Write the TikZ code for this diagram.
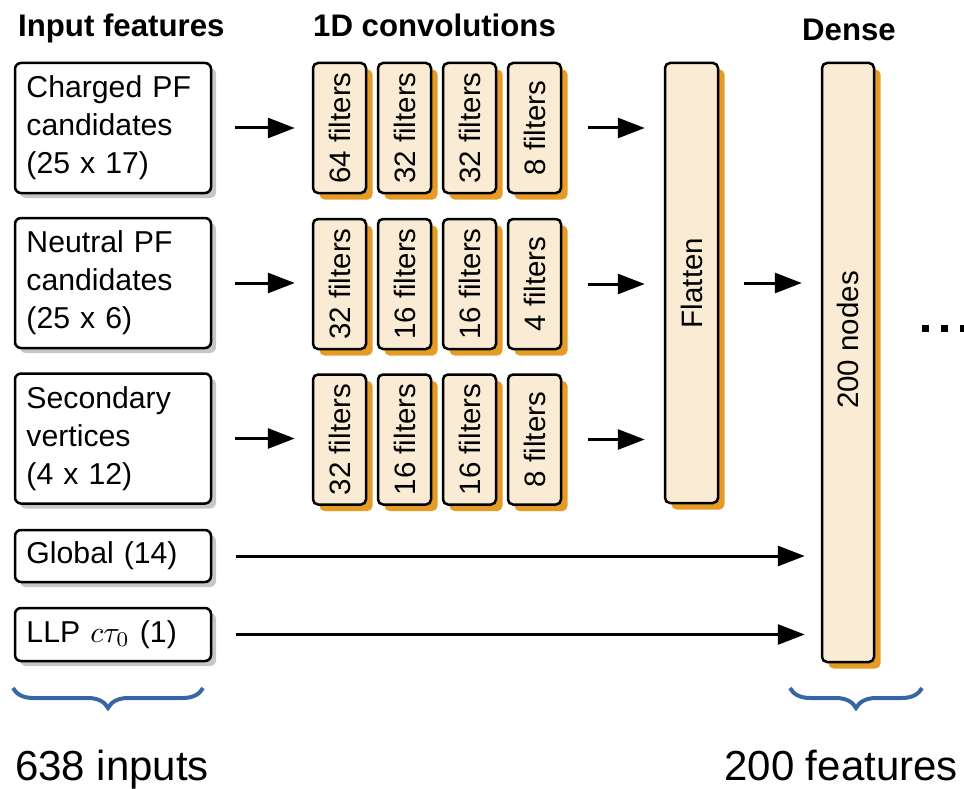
\documentclass[tikz,border=0pt]{standalone}
\usepackage{fontspec}
\setmainfont{Liberation Sans}
\usetikzlibrary{arrows.meta,shadows,decorations.pathreplacing}
\definecolor{cream}{HTML}{FAEBD4}
\definecolor{myorange}{HTML}{E69B26}
\definecolor{braceblue}{HTML}{3766A6}
\newcommand{\rotlab}[1]{\rotatebox{90}{#1}}
\newcommand{\ctauzero}{{\fontsize{10}{12}\selectfont\scalebox{3}{$c\tau_0$}}}
\begin{document}
\begin{tikzpicture}[x=1pt,y=-1pt,
  inbox/.style={draw=black, line width=2.5pt, rounded corners=6pt, fill=white,
    drop shadow={shadow xshift=5pt, shadow yshift=-5pt, fill=black!22, opacity=1},
    text width=173pt, inner xsep=11.5pt, inner ysep=0pt, align=left,
    font=\fontsize{30.2}{38}\selectfont},
  convbox/.style={draw=black, line width=2.5pt, rounded corners=5pt, fill=cream,
    drop shadow={shadow xshift=6.5pt, shadow yshift=-6.5pt, fill=myorange, opacity=1},
    minimum width=53pt, minimum height=130pt, inner sep=0pt,
    font=\fontsize{29.5}{34}\selectfont},
  arr/.style={line width=3pt, -{Triangle[length=27pt,width=20pt]}},
  title/.style={font=\fontsize{31.2}{36}\selectfont\bfseries, inner sep=0pt},
  bigtext/.style={font=\fontsize{42}{48}\selectfont, inner sep=0pt},
  brc/.style={draw=braceblue, line width=4pt, decorate,
    decoration={brace, amplitude=20pt, mirror}}
]
\useasboundingbox (0,0) rectangle (964,789);

% titles
\node[title, anchor=base west] (t1) at (18,37) {Input features};
\node[title, anchor=base west] (t2) at (313,37) {1D convolutions};
\node[title, anchor=base] (t3) at (849,41) {Dense};

% input boxes
\node[inbox, minimum height=130pt] (in1) at (113,128) {Charged PF\\candidates\\(25 x 17)};
\node[inbox, minimum height=130pt] (in2) at (113,283) {Neutral PF\\candidates\\(25 x 6)};
\node[inbox, minimum height=130pt] (in3) at (113,438.5) {Secondary\\vertices\\(4 x 12)};
\node[inbox, minimum height=52pt] (glob) at (113,556) {Global (14)};
\node[inbox, minimum height=53pt] (llp) at (113,634.5) {LLP \ctauzero{} (1)};

% conv boxes
\node[convbox] (c11) at (339.5,128) {\rotlab{64 filters}};
\node[convbox] (c12) at (404.5,128) {\rotlab{32 filters}};
\node[convbox] (c13) at (469.5,128) {\rotlab{32 filters}};
\node[convbox] (c14) at (534.5,128) {\rotlab{8 filters}};
\node[convbox] (c21) at (339.5,284) {\rotlab{32 filters}};
\node[convbox] (c22) at (404.5,284) {\rotlab{16 filters}};
\node[convbox] (c23) at (469.5,284) {\rotlab{16 filters}};
\node[convbox] (c24) at (534.5,284) {\rotlab{4 filters}};
\node[convbox] (c31) at (339.5,439.5) {\rotlab{32 filters}};
\node[convbox] (c32) at (404.5,439.5) {\rotlab{16 filters}};
\node[convbox] (c33) at (469.5,439.5) {\rotlab{16 filters}};
\node[convbox] (c34) at (534.5,439.5) {\rotlab{8 filters}};

% flatten and dense
\node[convbox, minimum height=440pt] (flat) at (691.5,283) {\rotlab{Flatten}};
\node[convbox, minimum width=52pt, minimum height=599pt] (dense) at (848,362.5) {\rotlab{\hspace{45pt}200 nodes}};

% arrows
\draw[arr, shorten <=23pt, shorten >=17pt] (in1.east) -- (c11.west);
\draw[arr, shorten <=23pt, shorten >=17pt] (in2.east) -- (in2.east -| c21.west);
\draw[arr, shorten <=23pt, shorten >=17pt] (in3.east) -- (in3.east -| c31.west);
\draw[arr, shorten <=26pt, shorten >=19pt] (c14.east) -- (c14.east -| flat.west);
\draw[arr, shorten <=26pt, shorten >=19pt] (c24.east) -- (c24.east -| flat.west);
\draw[arr, shorten <=26pt, shorten >=19pt] (c34.east) -- (c34.east -| flat.west);
\draw[arr, shorten <=25pt, shorten >=19pt] (flat.east) -- (flat.east -| dense.west);
\draw[arr, shorten <=24pt, shorten >=16pt] (glob.east) -- (glob.east -| dense.west);
\draw[arr, shorten <=24pt, shorten >=16pt] (llp.east) -- (llp.east -| dense.west);

% dots
\fill (922,325) rectangle (929,332);
\fill (941,325) rectangle (948,332);
\fill (960,325) rectangle (967,332);

% braces
\draw[brc] (13,688) -- (203,688);
\draw[brc] (790,688) -- (922,688);

% bottom labels
\node[bigtext, anchor=base west] (lab1) at (15,780) {638 inputs};
\node[bigtext, anchor=base east] (lab2) at (958,780) {200 features};
\end{tikzpicture}
\end{document}
